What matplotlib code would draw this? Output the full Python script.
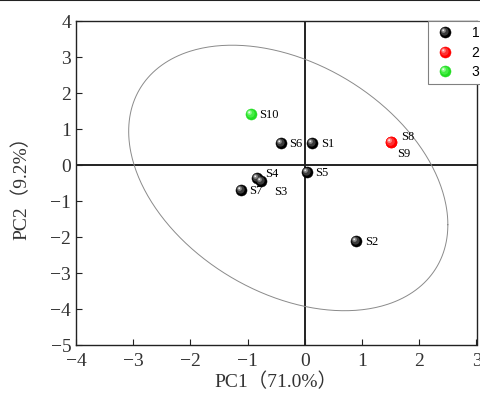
import numpy as np
import matplotlib
matplotlib.use("Agg")
import matplotlib.pyplot as plt
from matplotlib.path import Path
from matplotlib.lines import Line2D
from matplotlib.legend_handler import HandlerTuple

# ---------------- data ----------------
samples = ['S1', 'S2', 'S3', 'S4', 'S5', 'S6', 'S7', 'S8', 'S9', 'S10']
pc1 = [0.13, 0.90, -0.76, -0.84, 0.04, -0.42, -1.12, 1.51, 1.51, -0.94]
pc2 = [0.62, -2.11, -0.44, -0.37, -0.19, 0.62, -0.69, 0.65, 0.65, 1.42]
groups = [1, 1, 1, 1, 1, 1, 1, 2, 2, 3]
group_labels = ['1', '2', '3']
ellipse_center = [-0.29, -0.36]
ellipse_cov = [[7.78, -3.62], [-3.62, 13.6]]
x_ticks = [-4, -3, -2, -1, 0, 1, 2, 3]
y_ticks = [-5, -4, -3, -2, -1, 0, 1, 2, 3, 4]
xlabel = 'PC1（71.0%）'
ylabel = 'PC2（9.2%）'

# ---------------- style ----------------
serif = ['Liberation Serif', 'Noto Sans CJK SC']
ball_colors = {1: ['#000000', '#3a3a3a', '#8a8a8a', '#f0f0f0'],
               2: ['#ff0000', '#ff3030', '#ff8080', '#ffe0e0'],
               3: ['#22dd22', '#44ee44', '#90f890', '#f0fff0']}
label_offsets = {'S1': (6, -1), 'S2': (6, -1), 'S3': (9, -8), 'S4': (6, 3),
                 'S5': (6, -1), 'S6': (6, -1), 'S7': (6, -1), 'S8': (7, 3),
                 'S9': (4, -9), 'S10': (6, -1)}


def offset_circle(cx, cy, r):
    c = Path.circle((cx, cy), r)
    verts = np.vstack([[[0.5, 0.5], [-0.5, -0.5]], c.vertices])
    codes = np.concatenate([[Path.MOVETO, Path.MOVETO], c.codes])
    return Path(verts, codes)


highlights = [offset_circle(-0.08, 0.08, 0.36),
              offset_circle(-0.17, 0.17, 0.2),
              offset_circle(-0.2, 0.2, 0.08)]

fig = plt.figure(figsize=(4.8, 3.98), dpi=100)
ax = fig.add_axes([76 / 480, 1 - 345 / 398, 400.5 / 480, 324 / 398])

# ellipse
L = np.linalg.cholesky(np.array(ellipse_cov))
t = np.linspace(0, 2 * np.pi, 400)
circ = np.vstack([np.cos(t), np.sin(t)])
pts = L @ circ + np.array(ellipse_center)[:, None]
ax.plot(pts[0], pts[1], color='#8a8a8a', lw=0.7, zorder=2)

# zero lines
ax.axhline(0, color='#222222', lw=1.4, zorder=1)
ax.axvline(0, color='#222222', lw=1.4, zorder=1)

ms = 8.0
x = np.array(pc1)
y = np.array(pc2)
g = np.array(groups)
handles = []
for k in [1, 2, 3]:
    m = g == k
    cols = ball_colors[k]
    ax.plot(x[m], y[m], ls='none', marker='o', ms=ms, mfc=cols[0], mec=cols[0], mew=0.3, zorder=4)
    for i, hp in enumerate(highlights):
        ax.plot(x[m], y[m], ls='none', marker=hp, ms=ms, mfc=cols[i + 1], mec='none', zorder=5 + i)
    hs = [Line2D([], [], ls='none', marker='o', ms=ms, mfc=cols[0], mec=cols[0], mew=0.3)]
    hs += [Line2D([], [], ls='none', marker=hp, ms=ms, mfc=cols[i + 1], mec='none')
           for i, hp in enumerate(highlights)]
    handles.append(tuple(hs))

for s, xi, yi in zip(samples, pc1, pc2):
    dx, dy = label_offsets[s]
    ax.annotate(s, (xi, yi), xytext=(dx, dy), textcoords='offset points',
                fontsize=9, family=serif, va='center', ha='left', zorder=10)

leg = ax.legend(handles, group_labels, handler_map={tuple: HandlerTuple(ndivide=1, pad=0)},
                loc='upper left', bbox_to_anchor=(352 / 400.5, 1.0), frameon=True,
                fancybox=False, edgecolor='#808080', framealpha=1,
                prop={'family': 'Liberation Sans', 'size': 10},
                handlelength=1.8, handletextpad=1.0, labelspacing=0.41,
                borderpad=0.35, borderaxespad=0.0)
leg.get_frame().set_linewidth(0.8)

ax.set_xlim(-4, 3)
ax.set_ylim(-5, 4)
ax.set_xticks(x_ticks)
ax.set_yticks(y_ticks)
ax.tick_params(direction='in', length=4, width=0.8, labelsize=14, colors='#222222')
ax.tick_params(axis='x', pad=6)
for lab in ax.get_xticklabels() + ax.get_yticklabels():
    lab.set_family(serif)
    lab.set_color('#333333')
for sp in ax.spines.values():
    sp.set_linewidth(1.0)
    sp.set_color('#222222')

ax.set_xlabel(xlabel, fontsize=14, family=serif, color='#333333', labelpad=2)
ax.set_ylabel(ylabel, fontsize=14, family=serif, color='#333333', labelpad=14)

fig.add_artist(Line2D([0, 1], [0.999, 0.999], transform=fig.transFigure, color='#222222', lw=1.5))

fig.savefig('out.png', dpi=100)
